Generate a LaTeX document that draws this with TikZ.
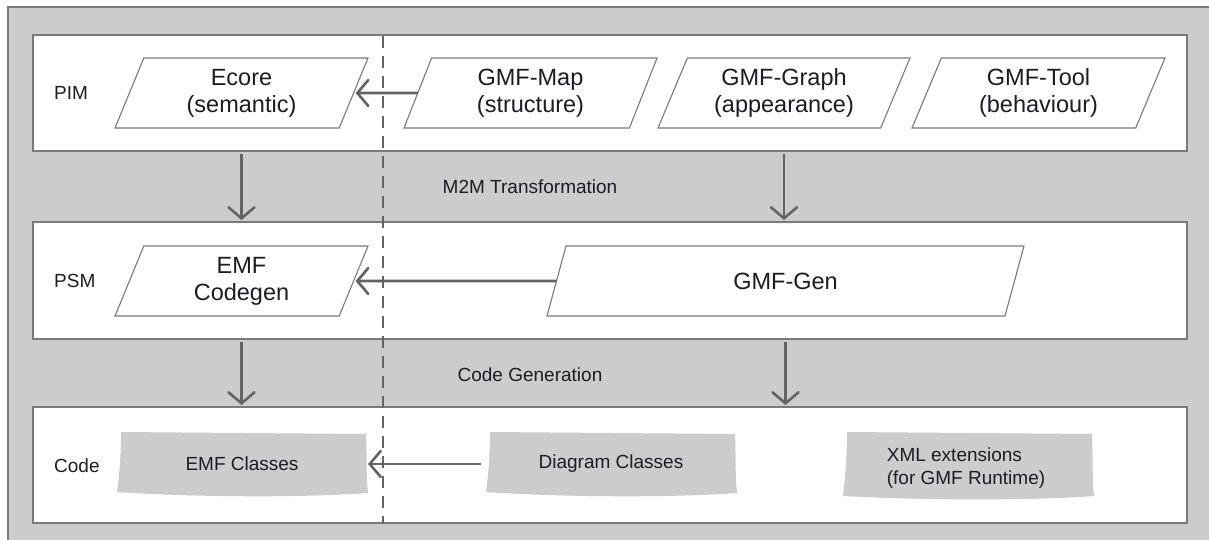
\documentclass[tikz,border=0pt]{standalone}
\usepackage{fontspec}
\setmainfont{Liberation Sans}
\usetikzlibrary{shapes.geometric,arrows.meta}
\definecolor{bgc}{HTML}{CCCCCC}
\definecolor{edgec}{HTML}{7A7A7A}
\definecolor{arrc}{HTML}{636363}
\definecolor{txtc}{HTML}{1C1C24}
\tikzset{
  panel/.style={draw=edgec, line width=1.4pt, fill=white, minimum width=1154pt, inner sep=0pt, outer sep=0pt},
  para/.style={trapezium, trapezium stretches body, draw=edgec, line width=1.1pt, fill=white,
     minimum height=70pt, inner sep=0pt, outer sep=0pt, align=center, text=txtc,
     font=\fontsize{23.5}{27}\selectfont},
  blobtext/.style={minimum width=250pt, minimum height=65pt, inner sep=0pt, outer sep=0pt, text=txtc,
     font=\fontsize{19}{23}\selectfont},
  lbl/.style={text=txtc, font=\fontsize{19}{23}\selectfont, inner sep=0pt},
  arr/.style={draw=arrc, line width=2.6pt, -{Straight Barb[length=11pt,width=26pt,line cap=round]}},
  sep/.style={draw=arrc, line width=2.4pt, dash pattern=on 12pt off 8pt},
  blob/.pic={\fill[bgc] (4,0) -- (249,2) .. controls (250,23) and (249,43) .. (251,61)
      .. controls (183,66) and (73,65) .. (0,60) .. controls (3,38) and (4,18) .. cycle;},
  blobtall/.pic={\fill[bgc] (4,0) -- (249,2) .. controls (250,25) and (249,46) .. (251,64)
      .. controls (183,69) and (73,68) .. (0,64) .. controls (3,40) and (4,18) .. cycle;}
}
\begin{document}
\begin{tikzpicture}[x=1pt,y=-1pt]
\useasboundingbox (0,0) rectangle (1209,540);
\draw[draw=edgec, line width=1.4pt, fill=bgc] (8,7) rectangle (1220,560);
% panels
\node[panel, minimum height=116pt] (pim) at (610,93) {};
\node[panel, minimum height=117pt] (psm) at (610,280.5) {};
\node[panel, minimum height=116pt] (code) at (610,465) {};
% dashed separator
\coordinate (dtop) at (383,36);
\coordinate (dbot) at (383,523);
\draw[sep] (dtop) -- (dbot);
% labels
\node[lbl, anchor=west] (lpim) at (54,93) {PIM};
\node[lbl, anchor=west] (lpsm) at (54,281) {PSM};
\node[lbl, anchor=west] (lcode) at (54,466) {Code};
% PIM row
\node[para, trapezium left angle=59.04, trapezium right angle=120.96, minimum width=253pt] (ecore) at (241.5,93) {Ecore\\(semantic)};
\node[para, trapezium left angle=60.26, trapezium right angle=119.74, minimum width=253pt] (map) at (530.5,93) {GMF-Map\\(structure)};
\node[para, trapezium left angle=59.04, trapezium right angle=120.96, minimum width=252pt] (graph) at (784,93) {GMF-Graph\\(appearance)};
\node[para, trapezium left angle=59.04, trapezium right angle=120.96, minimum width=253pt] (tool) at (1038.5,93) {GMF-Tool\\(behaviour)};
% PSM row
\node[para, trapezium left angle=59.04, trapezium right angle=120.96, minimum width=253pt] (codegen) at (241.5,281) {EMF\\Codegen};
\node[para, trapezium left angle=41.19, trapezium right angle=138.81, minimum width=477pt] (gen) at (785.5,281) {GMF-Gen};
% Code row
\pic at (117,432) {blob};
\pic at (486,432) {blob};
\pic at (843,432) {blobtall};
\node[blobtext] (emfc) at (242,464) {EMF Classes};
\node[blobtext] (diag) at (611,464) {Diagram Classes};
\node[blobtext, minimum width=0pt, minimum height=0pt, align=left] (xml) at (966,468) {XML extensions\\(for GMF Runtime)};
\coordinate (diagw) at (486,464);
% middle labels
\node[lbl] (m2m) at (530,187) {M2M Transformation};
\node[lbl] (cg) at (530,375) {Code Generation};
% horizontal arrows
\draw[arr, shorten >=2pt] (map) -- (ecore);
\draw[arr, shorten >=2pt] (gen) -- (codegen);
\draw[arr, shorten >=1pt, shorten <=5pt] (diagw) -- (emfc.east);
% vertical arrows
\draw[arr, shorten <=3pt, shorten >=2pt] (pim.south -| ecore.center) -- (psm.north -| ecore.center);
\draw[arr, shorten <=3pt, shorten >=2pt] (pim.south -| graph.center) -- (psm.north -| graph.center);
\draw[arr, shorten <=3pt, shorten >=2pt] (psm.south -| codegen.center) -- (code.north -| codegen.center);
\draw[arr, shorten <=3pt, shorten >=2pt] (psm.south -| gen.center) -- (code.north -| gen.center);
\end{tikzpicture}
\end{document}
